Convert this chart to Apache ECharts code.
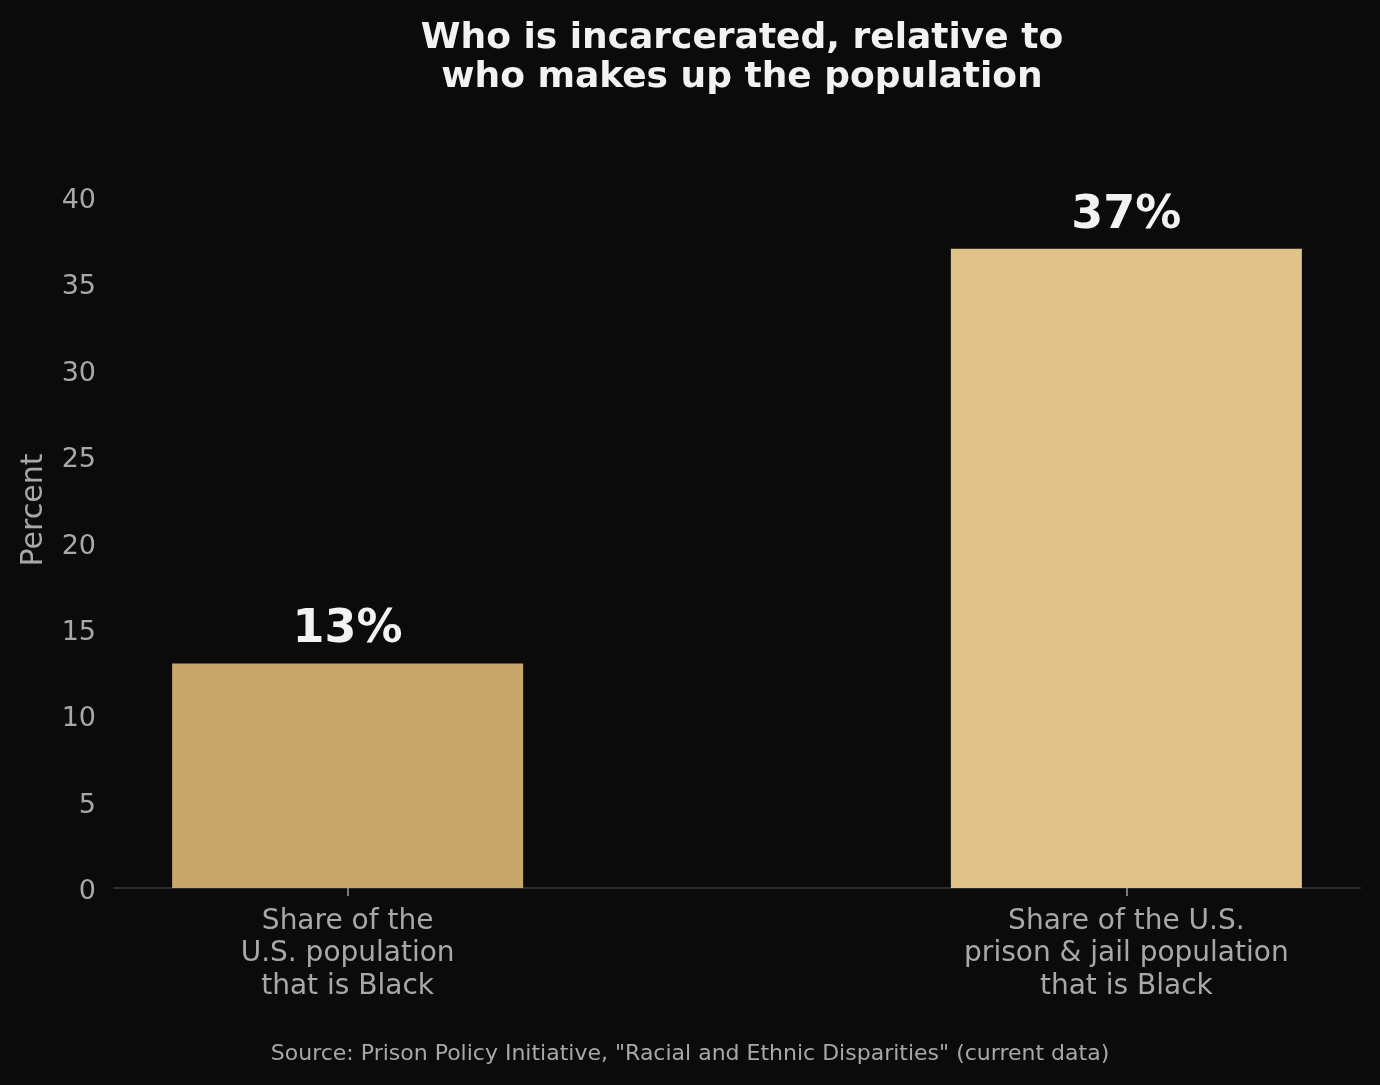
<!DOCTYPE html>
<html><head><meta charset="utf-8">
<script src="https://cdn.jsdelivr.net/npm/echarts@6/dist/echarts.min.js"></script>
<style>html,body{margin:0;padding:0;background:#0b0b0b;}#c{width:1380px;height:1085px;}</style>
</head><body><div id="c"></div>
<script>
const categories = ["Share of the\nU.S. population\nthat is Black", "Share of the U.S.\nprison & jail population\nthat is Black"];
const values = [13, 37];
const barColors = ["#c9a76a", "#e0c389"];
const yTicks = [0, 5, 10, 15, 20, 25, 30, 35, 40];

const chart = echarts.init(document.getElementById('c'), null, {renderer: 'canvas'});
const FONT = 'DejaVu Sans';
chart.setOption({
  backgroundColor: '#0b0b0b',
  animation: false,
  title: {
    text: 'Who is incarcerated, relative to\nwho makes up the population',
    left: 737, top: 14, textAlign: 'center',
    textStyle: {color: '#f2f2f2', fontFamily: FONT, fontWeight: 'bold', fontSize: 36, lineHeight: 39}
  },
  graphic: [{
    type: 'text', left: 'center', top: 1043,
    style: {text: 'Source: Prison Policy Initiative, "Racial and Ethnic Disparities" (current data)', fill: '#a8a8a8', font: '22px "DejaVu Sans"'}
  }, {
    type: 'text', x: 34, y: 510, rotation: Math.PI / 2,
    style: {text: 'Percent', fill: '#a8a8a8', font: '30px "DejaVu Sans"', align: 'center', verticalAlign: 'middle'}
  }],
  grid: {left: 114, right: 20, top: 197, bottom: 197, containLabel: false},
  xAxis: {
    type: 'value', min: -0.3, max: 1.3,
    splitLine: {show: false},
    axisLine: {show: true, onZero: false, lineStyle: {color: '#2c2c2c', width: 2}},
    axisTick: {show: true, customValues: [0, 1], length: 8, lineStyle: {color: '#a0a0a0', width: 1.5}},
    axisLabel: {show: true, customValues: [0, 1], margin: 17, color: '#a8a8a8', fontFamily: FONT, fontSize: 28, lineHeight: 32.5, align: 'center',
      formatter: v => categories[Math.round(v)]}
  },
  yAxis: {
    type: 'value', min: 0, max: 40, interval: 5,
    splitLine: {show: false},
    axisLine: {show: false}, axisTick: {show: false},
    axisLabel: {color: '#a8a8a8', fontFamily: FONT, fontSize: 27, margin: 18, verticalAlign: 'top', lineHeight: 8,
      formatter: v => yTicks.includes(v) ? String(v) : ''}
  },
  series: [{
    type: 'bar', barWidth: 351,
    data: values.map((v, i) => ({value: [i, v], itemStyle: {color: barColors[i]}})),
    label: {show: true, position: 'top', distance: 10, color: '#f2f2f2', fontFamily: FONT, fontWeight: 'bold', fontSize: 46,
      formatter: p => p.value[1] + '%'}
  }]
});
</script></body></html>
